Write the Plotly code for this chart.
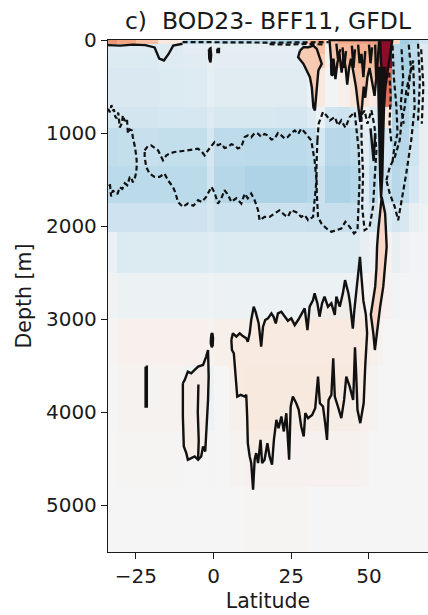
import plotly.graph_objects as go

# ---------------------------------------------------------------------------
# Gridded anomaly field (latitude bins x depth bins), RdBu_r scaled to [-1, 1]
# ---------------------------------------------------------------------------
lat_edges = [-34, -31, -25, -18, -10, -2, 0, 5, 10, 20, 30, 33, 36, 40, 44, 47,
             50, 53, 54.5, 57.5, 60, 63, 66, 69]
depth_edges = [0, 40, 150, 300, 720, 950, 1350, 1750, 2060, 2500, 3000, 3500,
               4200, 4800, 5500]

anomaly = [
    # 0-40 m
    [0.45, 0.40, 0.30, 0.10, -0.25, -0.20, -0.25, -0.25, -0.25, -0.30, 0.30, 0.35,
     0.20, 0.45, 0.50, 0.55, 0.60, 0.85, 0.95, 0.20, -0.35, -0.30, -0.20],
    # 40-150 m
    [-0.12, -0.13, -0.13, -0.12, -0.10, -0.07, -0.09, -0.09, -0.09, -0.09, 0.10, 0.30,
     0.05, 0.30, 0.35, 0.40, 0.45, 0.80, 0.95, -0.28, -0.32, -0.26, -0.12],
    # 150-300 m
    [-0.14, -0.14, -0.14, -0.13, -0.11, -0.08, -0.10, -0.10, -0.10, -0.10, 0.00, 0.25,
     0.05, 0.30, 0.30, 0.35, 0.30, 0.60, 0.90, -0.30, -0.33, -0.27, -0.12],
    # 300-720 m
    [-0.15, -0.15, -0.15, -0.14, -0.12, -0.09, -0.11, -0.11, -0.11, -0.11, -0.05, 0.10,
     -0.02, 0.05, 0.12, 0.15, 0.08, 0.20, 0.55, -0.30, -0.32, -0.25, -0.10],
    # 720-950 m
    [-0.19, -0.19, -0.19, -0.18, -0.17, -0.12, -0.16, -0.16, -0.16, -0.17, -0.13, -0.05,
     -0.20, -0.21, -0.17, -0.05, -0.12, 0.05, 0.10, -0.30, -0.30, -0.24, -0.08],
    # 950-1350 m
    [-0.25, -0.24, -0.23, -0.24, -0.24, -0.17, -0.26, -0.26, -0.27, -0.27, -0.25, -0.18,
     -0.28, -0.28, -0.26, -0.10, -0.22, -0.08, -0.18, -0.30, -0.28, -0.20, -0.07],
    # 1350-1750 m
    [-0.27, -0.27, -0.27, -0.27, -0.27, -0.20, -0.29, -0.29, -0.31, -0.31, -0.29, -0.22,
     -0.31, -0.31, -0.29, -0.13, -0.26, -0.08, -0.22, -0.28, -0.26, -0.18, -0.07],
    # 1750-2060 m
    [-0.21, -0.21, -0.21, -0.21, -0.21, -0.17, -0.22, -0.22, -0.22, -0.22, -0.23, -0.23,
     -0.23, -0.23, -0.23, -0.12, -0.19, 0.08, -0.12, -0.19, -0.16, -0.08, -0.04],
    # 2060-2500 m
    [-0.06, -0.14, -0.14, -0.14, -0.14, -0.11, -0.14, -0.14, -0.14, -0.14, -0.14, -0.14,
     -0.14, -0.14, -0.14, -0.08, -0.04, 0.08, 0.04, -0.08, -0.04, -0.02, -0.02],
    # 2500-3000 m
    [-0.03, -0.05, -0.05, -0.05, -0.05, -0.04, -0.05, -0.05, -0.05, -0.05, -0.05, -0.05,
     -0.05, -0.05, -0.05, 0.00, 0.04, 0.06, 0.03, -0.02, -0.01, -0.01, -0.01],
    # 3000-3500 m
    [0.01, 0.04, 0.04, 0.04, 0.04, 0.02, 0.05, 0.05, 0.05, 0.05, 0.05, 0.05,
     0.05, 0.05, 0.05, 0.06, 0.05, 0.02, 0.00, 0.00, 0.00, 0.00, 0.00],
    # 3500-4200 m
    [0.00, 0.02, 0.02, 0.02, -0.03, -0.04, 0.00, 0.05, 0.06, 0.06, 0.06, 0.06,
     0.06, 0.06, 0.06, 0.04, 0.02, 0.00, 0.00, 0.00, 0.00, 0.00, 0.00],
    # 4200-4800 m
    [0.00, 0.01, 0.01, 0.01, 0.00, -0.01, 0.00, 0.02, 0.03, 0.03, 0.03, 0.03,
     0.03, 0.03, 0.03, 0.02, 0.00, 0.00, 0.00, 0.00, 0.00, 0.00, 0.00],
    # 4800-5500 m
    [0.00, 0.00, 0.00, 0.00, 0.00, 0.00, 0.00, 0.00, 0.01, 0.01, 0.00, 0.00,
     0.00, 0.00, 0.00, 0.00, 0.00, 0.00, 0.00, 0.00, 0.00, 0.00, 0.00],
]

rdbu_r = [
    [0.0, "#053061"], [0.1, "#2166ac"], [0.2, "#4393c3"], [0.3, "#92c5de"],
    [0.4, "#d1e5f0"], [0.5, "#f5f5f5"], [0.6, "#fddbc7"], [0.7, "#f4a582"],
    [0.8, "#d6604d"], [0.9, "#b2182b"], [1.0, "#67001f"],
]

x_ticks = [-25, 0, 25, 50]
y_ticks = [0, 1000, 2000, 3000, 4000, 5000]

# ---------------------------------------------------------------------------
# Contour lines (latitude, depth): negative levels dashed, positive solid
# ---------------------------------------------------------------------------
neg_west_loop = [(-34, 740), (-33.4, 775), (-32.9, 700), (-32.4, 760), (-32.1, 746),
                 (-31.7, 820), (-31.2, 843), (-30.7, 780), (-30.2, 939), (-29.6, 900),
                 (-29.2, 810), (-28.6, 870), (-27.9, 843), (-27.6, 1003), (-27.0, 960),
                 (-26.3, 971), (-26.0, 1046), (-25.6, 1100), (-25.3, 1153), (-24.9, 1250),
                 (-24.7, 1325), (-24.9, 1420), (-25.3, 1475), (-26.0, 1529), (-26.6, 1470),
                 (-27.0, 1475), (-27.8, 1560), (-28.6, 1539), (-29.4, 1600), (-30.2, 1582),
                 (-30.9, 1650), (-31.8, 1646), (-32.4, 1614), (-33.0, 1680), (-33.4, 1539),
                 (-34, 1560)]

neg_central_loop = [(-22.2, 1185), (-21.2, 1140), (-20.1, 1132), (-19.0, 1160), (-17.9, 1185),
                    (-16.3, 1292), (-15.2, 1239), (-13.8, 1215), (-12.6, 1203), (-10.5, 1195),
                    (-8.3, 1185), (-6.5, 1175), (-5.0, 1168), (-3.8, 1200), (-2.9, 1239),
                    (-1.8, 1185), (0.3, 1096), (1.4, 1130), (2.5, 1114), (3.5, 1160),
                    (4.6, 1150), (5.7, 1120), (6.8, 1132), (7.8, 1165), (8.9, 1150),
                    (10.0, 1042), (11.0, 1025), (12.1, 1045), (13.2, 1000), (14.3, 1007),
                    (15.3, 1040), (16.4, 1010), (17.5, 1025), (18.6, 1070), (19.6, 1060),
                    (20.7, 1000), (21.8, 1025), (22.9, 1060), (23.9, 1042), (25.0, 1000),
                    (26.1, 971), (27.2, 1010), (28.2, 953), (29.3, 990), (30.4, 1042),
                    (31.4, 1078), (32.5, 1292), (33.1, 1507), (32.5, 1721), (32.0, 1900),
                    (30.4, 1936), (29.3, 1880), (28.2, 1900), (26.6, 1850), (25.0, 1828),
                    (23.9, 1900), (22.9, 1882), (21.2, 1830), (19.6, 1864), (18.0, 1900),
                    (16.4, 1900), (14.8, 1936), (14.3, 1828), (13.2, 1721), (12.1, 1650),
                    (11.0, 1700), (10.0, 1650), (8.9, 1757), (7.3, 1700), (5.7, 1739),
                    (4.6, 1660), (3.5, 1614), (2.5, 1700), (1.4, 1757), (0.3, 1640),
                    (-0.7, 1578), (-2.4, 1685), (-3.8, 1740), (-5.0, 1721), (-6.5, 1780),
                    (-8.3, 1757), (-9.9, 1793), (-11.5, 1739), (-12.3, 1640), (-13.1, 1578),
                    (-14.7, 1507), (-15.8, 1435), (-17.4, 1471), (-19.0, 1471), (-20.6, 1435),
                    (-21.7, 1364), (-22.2, 1257), (-22.2, 1185)]

neg_subpolar_loop = [(33.4, 1078), (33.8, 899), (35.2, 774), (36.3, 810), (37.4, 864),
                     (39.0, 828), (40.0, 917), (41.1, 864), (42.4, 942), (43.8, 828),
                     (45.4, 774), (45.9, 935), (46.7, 1185), (47.0, 1507), (46.7, 1793),
                     (46.3, 2043), (45.2, 2078), (43.8, 2007), (42.4, 1953), (41.1, 2025),
                     (39.5, 2043), (37.9, 2060), (36.3, 2025), (34.7, 1971), (33.6, 1900),
                     (33.2, 1650), (33.1, 1364), (33.4, 1078)]

neg_boundary_loop = [(47.6, 800), (48.6, 760), (49.5, 900), (50.8, 756), (51.8, 935),
                     (52.4, 1185), (51.8, 1507), (51.3, 1793), (50.2, 2007), (48.6, 2043),
                     (47.8, 1793), (48.1, 1435), (47.6, 1078), (47.6, 800)]

neg_north_loop = [(55.6, 1507), (56.7, 1364), (58.3, 1257), (59.9, 1078), (60.4, 899),
                  (61.5, 721), (62.0, 542), (63.1, 363), (64.2, 221), (64.7, 721),
                  (63.6, 1078), (62.0, 1435), (60.4, 1721), (59.4, 1936), (58.3, 1793),
                  (56.7, 1650), (55.6, 1507)]

neg_north_lines = [
    [(65.8, 40), (66.4, 435), (65.8, 864)],
    [(57.6, 60), (58.0, 400), (58.8, 700), (59.2, 1000), (58.2, 1150), (57.6, 1300)],
    [(56.5, 350), (57.0, 600), (56.6, 900), (57.2, 1100)],
    [(60.5, 100), (61.0, 400), (60.2, 700), (61.2, 900)],
    [(62.8, 50), (63.5, 300), (62.5, 600)],
    [(66.8, 100), (67.5, 500), (67.0, 900)],
    [(-10, 22), (0, 25), (10, 22), (20, 28), (30, 25), (37, 22)],
    [(18, 45), (24, 50), (30, 42), (36, 48)],
]

pos_deep_cell = [(5.7, 3223), (6.2, 3151), (7.3, 3187), (8.4, 3151), (9.4, 3180), (10.5, 3205),
                 (11.0, 3241), (11.6, 3151), (12.1, 3008), (12.9, 2865), (13.5, 2919),
                 (14.5, 3044), (15.3, 3294), (15.9, 3080), (16.6, 3008), (17.5, 2990),
                 (18.6, 2937), (19.3, 2973), (20.0, 3044), (20.7, 2937), (21.8, 2919),
                 (22.9, 2973), (23.9, 3016), (25.0, 2990), (26.1, 3062), (27.2, 3008),
                 (28.2, 2955), (29.3, 2883), (30.2, 3116), (30.9, 2865), (32.0, 2793),
                 (32.5, 2722), (33.4, 2829), (34.1, 2972), (34.9, 2829), (35.7, 2757),
                 (36.8, 2865), (37.9, 2829), (39.0, 2954), (39.5, 2757), (40.6, 2865),
                 (41.6, 2722), (42.3, 2579), (43.4, 2722), (43.9, 2829), (44.4, 3000),
                 (44.8, 3100), (45.3, 2900), (46.6, 2436), (47.1, 2329), (47.6, 2550),
                 (48.2, 2800), (49.0, 2950), (49.4, 3150), (48.8, 3500), (48.3, 3900),
                 (47.2, 4116), (46.3, 3973), (45.9, 3600), (45.5, 3300), (45.1, 3700),
                 (44.9, 3866), (43.8, 3723), (42.7, 3616), (42.0, 3866), (41.1, 4062),
                 (40.0, 3937), (39.0, 3830), (38.5, 3419), (37.9, 3812), (37.0, 3866),
                 (36.5, 4295), (35.9, 4116), (35.2, 3937), (34.2, 3902), (33.6, 3616),
                 (32.7, 3955), (31.7, 4027), (30.4, 4062), (29.5, 4009), (29.0, 4259),
                 (28.2, 4152), (27.4, 3973), (26.6, 3902), (25.5, 3830), (24.8, 3937),
                 (24.3, 4509), (23.4, 4009), (22.6, 4205), (21.8, 4045), (20.9, 4170),
                 (20.2, 4080), (19.4, 4295), (18.8, 4563), (18.0, 4473), (17.3, 4330),
                 (16.4, 4509), (15.6, 4545), (15.1, 4295), (14.3, 4545), (13.7, 4438),
                 (13.2, 4509), (12.7, 4831), (12.1, 4545), (11.6, 4473), (11.0, 4330),
                 (10.8, 4045), (10.5, 3812), (10.0, 3830), (8.7, 3812), (7.6, 3830),
                 (7.1, 3616), (6.5, 3366), (5.9, 3330), (5.7, 3223)]

pos_spike = [(54.1, 1686), (55.2, 1864), (55.7, 2222), (55.2, 2400), (54.6, 2650),
             (53.6, 2865), (53.0, 3043), (52.5, 3222), (51.9, 3330), (51.4, 3151),
             (50.6, 2950), (51.3, 2800), (52.0, 2650), (52.4, 2450), (52.6, 2222),
             (53.0, 2043), (53.6, 1793), (54.1, 1686)]

pos_tongue = [(27.8, 114), (27.2, 185), (28.9, 256), (30.0, 328), (31.0, 400), (31.6, 507),
              (31.9, 614), (32.1, 721), (32.6, 757), (32.9, 650), (33.2, 471), (33.7, 328),
              (34.8, 256), (34.2, 185), (33.2, 95), (32.1, 60), (30.5, 78), (28.9, 78),
              (27.8, 114)]

pos_west_loop = [(-9.9, 3687), (-9.3, 3652), (-8.3, 3562), (-7.2, 3580), (-6.1, 3544),
                 (-5.0, 3509), (-3.4, 3491), (-2.9, 3455), (-2.4, 3401), (-1.8, 3330),
                 (-1.6, 3616), (-1.8, 3866), (-2.4, 4223), (-2.7, 4420), (-3.4, 4366),
                 (-4.0, 4473), (-5.0, 4509), (-6.1, 4473), (-7.2, 4491), (-8.3, 4509),
                 (-8.8, 4438), (-9.6, 4366), (-9.9, 4045), (-9.9, 3687)]

pos_small_cells = [
    [(-0.9, 3220), (-0.7, 3160), (-0.4, 3150), (-0.2, 3200), (-0.3, 3280), (-0.6, 3300),
     (-0.9, 3260), (-0.9, 3220)],
    [(-21.9, 3509), (-21.5, 3509), (-21.5, 3937), (-21.9, 3937), (-21.9, 3509)],
]

pos_lines = [
    [(-4.9, 3700), (-5.1, 4000), (-4.8, 4300), (-5.0, 4500)],
    [(-34, 55), (-30, 60), (-26, 50), (-22, 55), (-19, 80), (-17.5, 200), (-16, 220),
     (-14.5, 150), (-13, 60), (-10, 40)],
    [(39.5, 40), (40.0, 200), (40.8, 100)],
    [(41.5, 80), (42.0, 300), (42.6, 120)],
    [(44.5, 60), (45.0, 300), (45.5, 100)],
    [(46.5, 50), (47.0, 250), (47.6, 150), (48.2, 400), (48.8, 120)],
    [(50.0, 50), (50.5, 250), (51.0, 80)],
    [(52.0, 50), (52.3, 400), (52.6, 200)],
    [(50.5, 950), (51.0, 1100), (51.5, 1300), (52.0, 1000)],
]

surface_warm = [(37.3, 0), (37.6, 120), (38.0, 300), (38.6, 200), (39.2, 420), (39.8, 250),
                (40.5, 150), (41.2, 350), (41.8, 180), (42.5, 300), (43.0, 480), (43.6, 300),
                (44.2, 200), (45.0, 350), (45.8, 500), (46.5, 700), (47.2, 880), (47.8, 700),
                (48.3, 500), (48.8, 620), (49.5, 400), (50.2, 300), (51.0, 450), (51.8, 600),
                (52.5, 350), (53.0, 150), (53.3, 0), (37.3, 0)]

surface_hot = [(53.6, 0), (53.8, 200), (54.3, 400), (54.8, 700), (55.3, 500), (56.2, 300),
               (57.2, 100), (57.5, 0), (53.6, 0)]

dense_column = [(52.9, 300), (53.1, 700), (53.3, 1100), (53.6, 1500), (53.9, 1700),
                (54.3, 1450), (54.6, 1000), (54.9, 600), (55.2, 300), (52.9, 300)]

dense_blobs = [
    [(-1.5, 100), (-1.0, 90), (-0.8, 160), (-1.0, 240), (-1.4, 200), (-1.5, 100)],
    [(1.2, 95), (1.7, 95), (1.7, 130), (1.2, 130), (1.2, 95)],
    [(37.8, 250), (38.3, 240), (38.4, 380), (37.9, 370), (37.8, 250)],
]

INK = "#111111"
DASH = "5px,3px"

fig = go.Figure()

fig.add_trace(go.Heatmap(
    x=lat_edges, y=depth_edges, z=anomaly, colorscale=rdbu_r, zmin=-1, zmax=1,
    showscale=False, hoverinfo="skip",
))


def add_path(points, dash=None, fill=None, width=2.4):
    lats = [p[0] for p in points]
    deps = [p[1] for p in points]
    fig.add_trace(go.Scatter(
        x=lats, y=deps, mode="lines",
        line=dict(color=INK, width=width, dash=dash),
        fill="toself" if fill else None,
        fillcolor=fill,
        hoverinfo="skip", showlegend=False,
    ))


# warm (positive) cells with light fills
add_path(pos_deep_cell, fill="rgba(250,226,210,0.35)")
add_path(pos_spike, fill="rgba(247,208,188,0.8)")
add_path(pos_tongue, fill="rgba(247,198,172,0.9)")
add_path(surface_warm, fill="rgba(244,182,152,0.7)")
add_path(surface_hot, fill="#8c0d27")
add_path(pos_west_loop, fill="rgba(250,228,214,0.45)")
for seg in pos_small_cells:
    add_path(seg)
for seg in pos_lines:
    add_path(seg)
add_path(dense_column, fill=INK)
for blob in dense_blobs:
    add_path(blob, fill=INK)

# cold (negative) contours, dashed
for loop in (neg_west_loop, neg_central_loop, neg_subpolar_loop,
             neg_boundary_loop, neg_north_loop):
    add_path(loop, dash=DASH, width=2.2)
for seg in neg_north_lines:
    add_path(seg, dash=DASH, width=2.2)

FONT = "DejaVu Sans"
TXT = "#1a1a1a"

fig.update_layout(
    width=428, height=615,
    margin=dict(l=108, r=0, t=40, b=63),
    paper_bgcolor="white", plot_bgcolor="white",
    font=dict(family=FONT, size=20, color=TXT),
    showlegend=False,
    title=dict(
        text="c)\u00a0 BOD23- BFF11, GFDL",
        x=0.5, xref="paper", xanchor="center",
        y=1 - 21 / 615, yref="container", yanchor="middle",
        font=dict(family=FONT, size=23.5, color=TXT),
    ),
    xaxis=dict(
        range=[-34, 69], tickvals=x_ticks, ticks="outside", ticklen=6, tickwidth=1.3,
        tickcolor=TXT, showline=True, linecolor=TXT, linewidth=1.3,
        mirror=True, showgrid=False, zeroline=False,
        tickfont=dict(size=20),
        title=dict(text="Latitude", standoff=6, font=dict(size=20.5)),
    ),
    yaxis=dict(
        range=[5500, 0], tickvals=y_ticks, ticks="outside", ticklen=6, tickwidth=1.3,
        tickcolor=TXT, showline=True, linecolor=TXT, linewidth=1.3,
        showgrid=False, zeroline=False,
        tickfont=dict(size=20),
        title=dict(text="Depth [m]", standoff=8, font=dict(size=20.5)),
    ),
)

fig.write_html("out.html")
